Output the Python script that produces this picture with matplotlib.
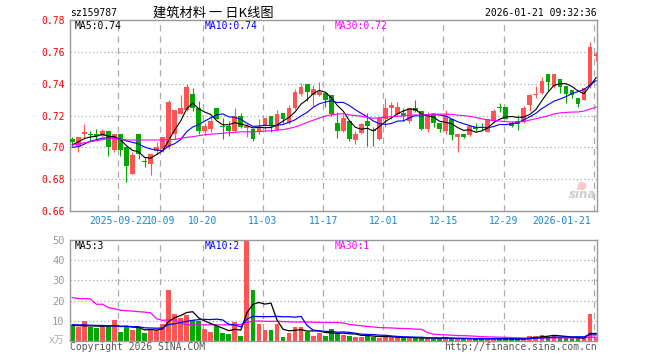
import numpy as np
import pandas as pd
import matplotlib
matplotlib.use('Agg')
import matplotlib.pyplot as plt
from matplotlib.patches import Ellipse

plt.rcParams['font.family'] = ['DejaVu Sans Mono', 'Noto Sans CJK SC']

# 日K数据 (2025-09-10 ~ 2026-01-21, 88 个交易日)
open_p = [0.7052, 0.7000, 0.7083, 0.7081, 0.7083, 0.7073, 0.7100, 0.6985, 0.7083, 0.7000,
          0.6833, 0.7083, 0.6913, 0.6896, 0.6979, 0.6990, 0.7000, 0.7083, 0.7208, 0.7233,
          0.7333, 0.7244, 0.7104, 0.7115, 0.7244, 0.7135, 0.7131, 0.7104, 0.7194, 0.7119,
          0.7115, 0.7104, 0.7131, 0.7194, 0.7110, 0.7215, 0.7156, 0.7246, 0.7333, 0.7396,
          0.7327, 0.7327, 0.7344, 0.7329, 0.7152, 0.7104, 0.7167, 0.7048, 0.7088, 0.7167,
          0.7108, 0.7052, 0.7177, 0.7246, 0.7208, 0.7215, 0.7167, 0.7244, 0.7229, 0.7115,
          0.7202, 0.7152, 0.7104, 0.7181, 0.7067, 0.7083, 0.7077, 0.7129, 0.7129, 0.7098,
          0.7167, 0.7256, 0.7256, 0.7150, 0.7167, 0.7160, 0.7265, 0.7327, 0.7344, 0.7458,
          0.7385, 0.7427, 0.7385, 0.7358, 0.7313, 0.7296, 0.7385, 0.7573]
high_p = [0.7067, 0.7062, 0.7146, 0.7100, 0.7115, 0.7115, 0.7100, 0.7083, 0.7083, 0.7000,
          0.6969, 0.7083, 0.6938, 0.6958, 0.7031, 0.7067, 0.7296, 0.7233, 0.7327, 0.7400,
          0.7375, 0.7292, 0.7156, 0.7198, 0.7244, 0.7183, 0.7167, 0.7246, 0.7215, 0.7146,
          0.7115, 0.7177, 0.7183, 0.7194, 0.7233, 0.7215, 0.7265, 0.7365, 0.7406, 0.7396,
          0.7390, 0.7410, 0.7344, 0.7329, 0.7219, 0.7208, 0.7167, 0.7104, 0.7156, 0.7215,
          0.7125, 0.7183, 0.7308, 0.7285, 0.7285, 0.7244, 0.7246, 0.7296, 0.7229, 0.7219,
          0.7202, 0.7152, 0.7235, 0.7181, 0.7083, 0.7083, 0.7135, 0.7150, 0.7156, 0.7177,
          0.7240, 0.7277, 0.7256, 0.7167, 0.7204, 0.7260, 0.7333, 0.7385, 0.7442, 0.7458,
          0.7458, 0.7427, 0.7385, 0.7358, 0.7313, 0.7375, 0.7663, 0.7598]
low_p = [0.7010, 0.6973, 0.7052, 0.7042, 0.7052, 0.7062, 0.6944, 0.6969, 0.6944, 0.6781,
         0.6833, 0.6927, 0.6875, 0.6829, 0.6958, 0.6969, 0.6990, 0.7052, 0.7208, 0.7229,
         0.7229, 0.7083, 0.7079, 0.7094, 0.7177, 0.7052, 0.7073, 0.7094, 0.7119, 0.7063,
         0.7042, 0.7083, 0.7104, 0.7098, 0.7104, 0.7156, 0.7146, 0.7240, 0.7323, 0.7292,
         0.7260, 0.7323, 0.7256, 0.7198, 0.7058, 0.7094, 0.7042, 0.7021, 0.7083, 0.7010,
         0.7010, 0.7048, 0.7125, 0.7177, 0.7198, 0.7167, 0.7156, 0.7219, 0.7110, 0.7094,
         0.7125, 0.7094, 0.7083, 0.7046, 0.6973, 0.7056, 0.7073, 0.7104, 0.7108, 0.7094,
         0.7160, 0.7223, 0.7177, 0.7125, 0.7110, 0.7156, 0.7229, 0.7310, 0.7333, 0.7354,
         0.7375, 0.7344, 0.7281, 0.7313, 0.7254, 0.7296, 0.7375, 0.7542]
close_p = [0.7035, 0.7062, 0.7098, 0.7077, 0.7073, 0.7100, 0.7000, 0.7083, 0.6985, 0.6885,
           0.6952, 0.6958, 0.6906, 0.6958, 0.7000, 0.7067, 0.7285, 0.7233, 0.7244, 0.7379,
           0.7250, 0.7104, 0.7131, 0.7167, 0.7181, 0.7125, 0.7104, 0.7198, 0.7125, 0.7131,
           0.7052, 0.7125, 0.7183, 0.7131, 0.7208, 0.7177, 0.7246, 0.7348, 0.7379, 0.7348,
           0.7365, 0.7348, 0.7296, 0.7208, 0.7104, 0.7183, 0.7052, 0.7083, 0.7146, 0.7135,
           0.7100, 0.7183, 0.7246, 0.7265, 0.7256, 0.7194, 0.7246, 0.7229, 0.7115, 0.7208,
           0.7152, 0.7115, 0.7194, 0.7077, 0.7083, 0.7063, 0.7135, 0.7115, 0.7119, 0.7177,
           0.7229, 0.7246, 0.7181, 0.7135, 0.7146, 0.7246, 0.7327, 0.7333, 0.7417, 0.7410,
           0.7458, 0.7381, 0.7333, 0.7327, 0.7271, 0.7375, 0.7629, 0.7588]
# 成交量 (万)
volume = [7.7, 6.7, 9.7, 6.7, 6.2, 7.0, 7.7, 10.2, 4.7, 6.7,
          5.2, 6.7, 4.2, 5.7, 5.2, 8.2, 25.2, 13.2, 11.2, 12.7,
          10.2, 9.8, 5.7, 4.7, 7.2, 4.2, 3.7, 9.2, 2.7, 50.0,
          25.2, 8.2, 5.3, 5.2, 8.2, 2.2, 4.2, 6.7, 6.7, 4.7,
          2.7, 4.2, 2.7, 5.7, 3.8, 3.2, 2.5, 2.2, 2.2, 3.5,
          1.8, 1.3, 2.2, 2.2, 1.5, 1.5, 1.5, 1.5, 1.5, 1.5,
          1.0, 1.0, 2.2, 1.0, 1.0, 1.0, 1.0, 1.0, 1.5, 1.0,
          1.0, 1.0, 1.0, 1.0, 1.0, 1.0, 2.7, 2.7, 3.2, 2.2,
          3.2, 1.4, 1.4, 1.4, 1.4, 1.4, 13.2, 1.3]

# 窗口开头的均线值 (数据不足时从图上读取)
ma5_head = [0.7015, 0.7035, 0.7055, 0.7065]
ma10_head = [0.7000, 0.7004, 0.7021, 0.7038, 0.7048, 0.7058, 0.7060, 0.7056, 0.7052]
ma30_head = [0.7015, 0.7021, 0.7029, 0.7035, 0.7042, 0.7048, 0.7054, 0.7056, 0.7050, 0.7046,
             0.7046, 0.7046, 0.7046, 0.7046, 0.7046, 0.7046, 0.7048, 0.7050, 0.7056, 0.7063,
             0.7067, 0.7073, 0.7079, 0.7083, 0.7085, 0.7088, 0.7092, 0.7094, 0.7098]
vma5_head = [7.8, 7.6, 7.5, 7.5]
vma10_head = [8.0, 8.0, 8.0, 7.8, 7.7, 7.7, 7.5, 7.5, 7.3]
vma30_head = [21.5, 21.0, 21.0, 20.8, 18.2, 18.2, 16.5, 16.0, 15.2, 15.0,
              14.8, 14.5, 14.3, 14.0, 11.0, 10.2, 10.5, 10.5, 8.8, 8.0,
              8.0, 8.0, 8.0, 8.0, 8.0, 8.0, 8.0, 8.0, 8.2]

tick_idx = [8, 15, 22, 32, 42, 52, 62, 72, 87]
tick_labels = ['2025-09-22', '10-09', '10-20', '11-03', '11-17', '12-01', '12-15', '12-29', '2026-01-21']
price_ticks = [0.66, 0.68, 0.70, 0.72, 0.74, 0.76, 0.78]
vol_ticks = [10, 20, 30, 40, 50]

RED = '#ff5454'
GREEN = '#00a800'
GRID = '#aaaaaa'
BORDER = '#999999'


def ma(values, n, head):
    s = pd.Series(values).rolling(n).mean().to_numpy()
    s[:n - 1] = head
    return s


o = np.array(open_p)
h = np.array(high_p)
l = np.array(low_p)
c = np.array(close_p)
v = np.array(volume)
x = np.arange(len(c))
cols = np.where(c >= o, RED, GREEN)

fig = plt.figure(figsize=(6.6, 3.6), dpi=100)
ax = fig.add_axes([70 / 660, 149 / 360, 527 / 660, 191 / 360])
axv = fig.add_axes([70 / 660, 19 / 360, 527 / 660, 101 / 360])

for a in (ax, axv):
    a.set_xlim(-0.38, 87.15)
    for sp in a.spines.values():
        sp.set_color(BORDER)
        sp.set_linewidth(1)
    a.set_xticks([])
    for i in tick_idx:
        a.axvline(i - 0.35, color=GRID, lw=0.9, ls=(0, (5, 4)), zorder=0)

# K线
ax.set_ylim(0.66, 0.78)
for p in price_ticks[1:-1]:
    ax.axhline(p, color=GRID, lw=0.9, ls=(0, (1, 2)), zorder=0)
ax.vlines(x, l, h, colors=cols, lw=0.8, zorder=2)
body = np.maximum(np.abs(c - o), 0.0007)
ax.bar(x, body, bottom=np.minimum(o, c), width=0.8, color=cols, linewidth=0, zorder=3)
ax.plot(x, ma(c, 5, ma5_head), color='black', lw=0.8, zorder=4)
ax.plot(x, ma(c, 10, ma10_head), color='#0000ff', lw=0.8, zorder=4)
ax.plot(x, ma(c, 30, ma30_head), color='#ff00ff', lw=0.8, zorder=4)
ax.set_yticks(price_ticks)
ax.set_yticklabels(['%.2f' % p for p in price_ticks], color='red', fontsize=7)
ax.tick_params(axis='y', length=0, pad=4)

for i, lab in zip(tick_idx, tick_labels):
    if i == tick_idx[-1]:
        ax.text(i - 0.85, -0.052, lab, transform=ax.get_xaxis_transform(), ha='right', va='center',
                fontsize=7, color='#1a86cc')
    else:
        ax.text(i - 0.35, -0.052, lab, transform=ax.get_xaxis_transform(), ha='center', va='center',
                fontsize=7, color='#1a86cc')

# 成交量
axv.set_ylim(0, 50)
for p in vol_ticks[:-1]:
    axv.axhline(p, color=GRID, lw=0.9, ls=(0, (1, 2)), zorder=0)
axv.bar(x, v, width=0.8, color=cols, linewidth=0, zorder=2)
axv.plot(x, ma(v, 5, vma5_head), color='black', lw=0.9, zorder=4)
axv.plot(x, ma(v, 10, vma10_head), color='#0000ff', lw=0.9, zorder=4)
axv.plot(x, ma(v, 30, vma30_head), color='#ff00ff', lw=0.9, zorder=3)
axv.set_yticks(vol_ticks)
axv.set_yticklabels([str(t) for t in vol_ticks], color='#999999', fontsize=7.5)
axv.tick_params(axis='y', length=0, pad=4)

# 文字
fig.text(70 / 660, 1 - 13 / 360, 'sz159787', fontsize=7, va='center')
fig.text(213 / 660, 1 - 13 / 360, '建筑材料 一 日K线图', fontsize=9.5, ha='center', va='center',
         family=['Noto Sans CJK SC'])
fig.text(597 / 660, 1 - 13 / 360, '2026-01-21 09:32:36', fontsize=7, ha='right', va='center')
fig.text(75 / 660, 1 - 26 / 360, 'MA5:0.74', fontsize=7, va='center', color='black')
fig.text(205 / 660, 1 - 26 / 360, 'MA10:0.74', fontsize=7, va='center', color='#0000ff')
fig.text(335 / 660, 1 - 26 / 360, 'MA30:0.72', fontsize=7, va='center', color='#ff00ff')
fig.text(75 / 660, 1 - 246 / 360, 'MA5:3', fontsize=7, va='center', color='black')
fig.text(205 / 660, 1 - 246 / 360, 'MA10:2', fontsize=7, va='center', color='#0000ff')
fig.text(335 / 660, 1 - 246 / 360, 'MA30:1', fontsize=7, va='center', color='#ff00ff')
fig.text(64 / 660, 1 - 340 / 360, 'x万', fontsize=7, ha='right', va='center', color='#aaaaaa')
fig.text(70 / 660, 1 - 347 / 360, 'Copyright 2026 SINA.COM', fontsize=7, va='center', color='#555555')
fig.text(597 / 660, 1 - 347 / 360, 'http://finance.sina.com.cn', fontsize=7, ha='right', va='center',
         color='#555555')

# sina 水印
fig.patches.append(Ellipse((582 / 660, 1 - 186 / 360), 9 / 660, 8 / 360, transform=fig.transFigure,
                           facecolor='#f8c8c8', edgecolor='none', zorder=5))
fig.text(583 / 660, 1 - 195 / 360, 'sina', fontsize=8.5, ha='center', va='center', color='#cccccc',
         style='italic', weight='bold', family=['DejaVu Sans'])

fig.savefig('out.png', dpi=100)
